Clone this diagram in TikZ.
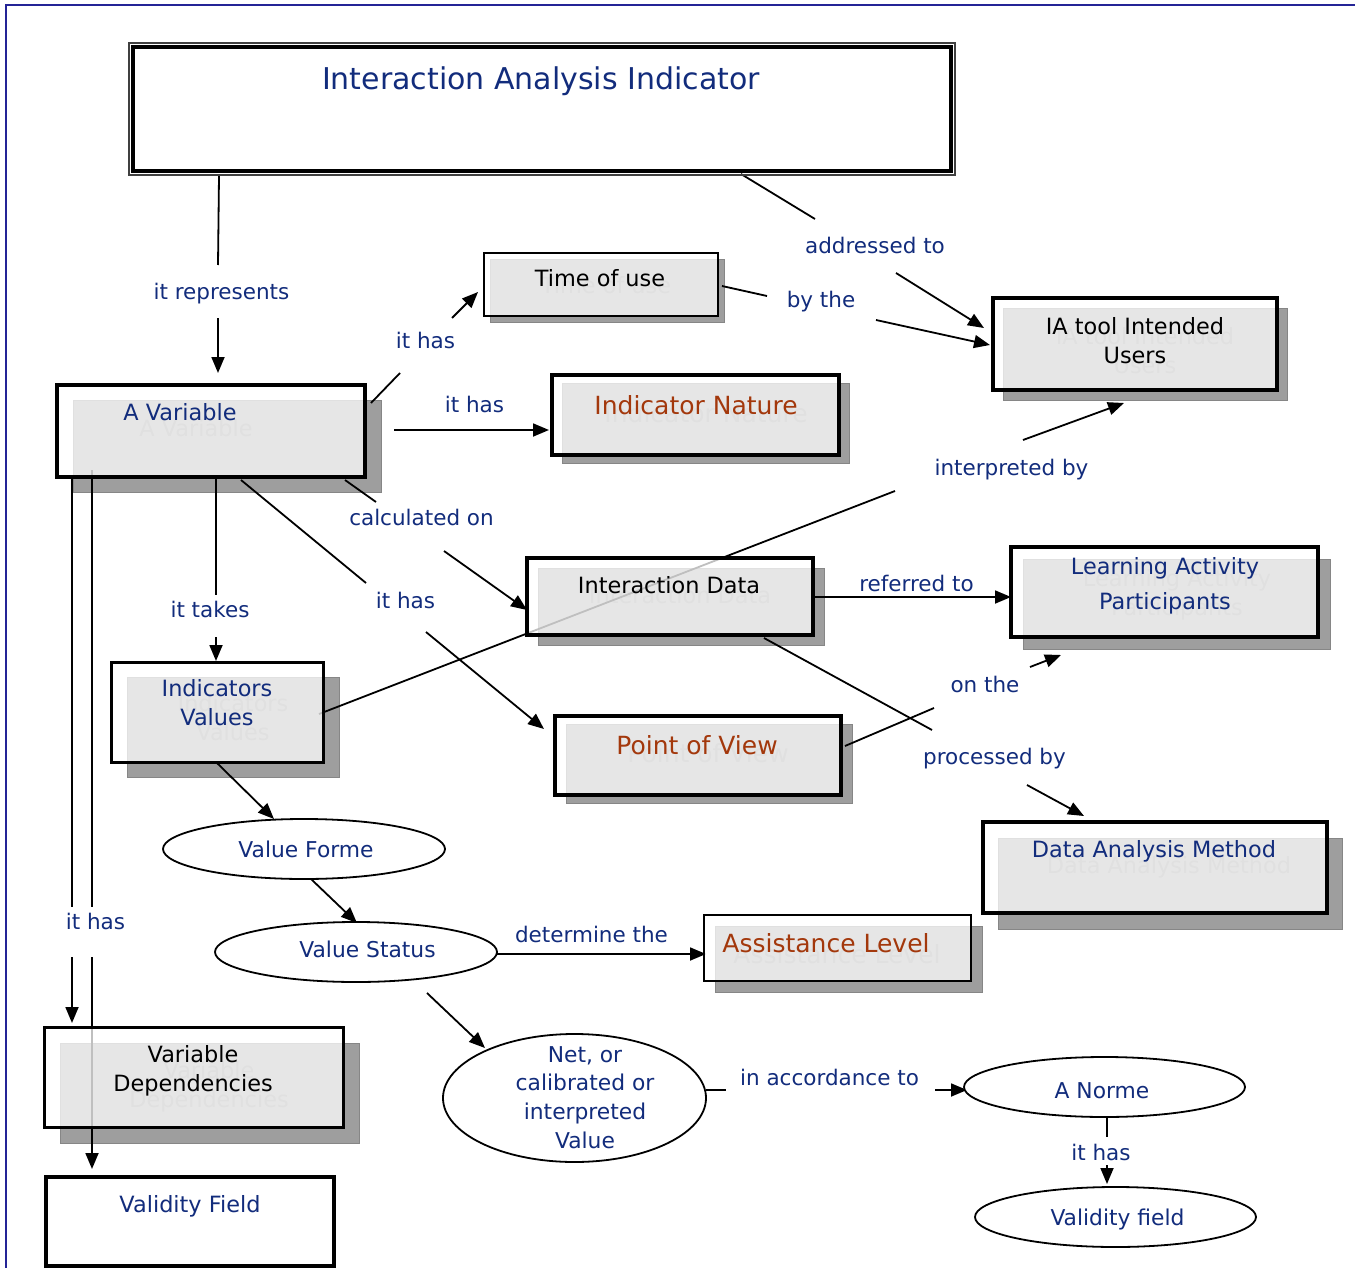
\documentclass[tikz,border=0pt]{standalone}
\usepackage{fontspec}
\setmainfont{DejaVu Sans}
\usetikzlibrary{arrows.meta,shapes.geometric,calc}
\pgfdeclarelayer{sh}
\pgfdeclarelayer{bg}
\pgfsetlayers{sh,bg,main}
\definecolor{navy}{RGB}{18,44,124}
\definecolor{rust}{RGB}{163,56,12}
\definecolor{shad}{RGB}{158,158,158}
\definecolor{framec}{RGB}{36,36,150}
\definecolor{ghostc}{RGB}{132,132,132}
\tikzset{
  lbl/.style={font=\fontsize{21.5}{26}\selectfont, text=navy, anchor=base, inner sep=0},
  boxshape/.style={rectangle, draw=black, fill=white, fill opacity=0.75, inner sep=0},
  btxt/.style={font=\fontsize{22.4}{29}\selectfont, inner sep=0, align=center},
  bigtxt/.style={font=\fontsize{25}{30}\selectfont, inner sep=0, align=center},
  etxt/.style={font=\fontsize{21.8}{28.7}\selectfont, text=navy, inner sep=0, align=center},
  shadowfill/.style={fill=shad, draw=shad!85!black, line width=0.8pt},
  conn/.style={line width=1.8pt, line cap=butt},
  arr/.style={conn, -{Triangle[length=16pt,width=13pt]}},
  ell/.style={ellipse, draw=black, fill=white, line width=1.8pt, inner sep=0}
}
% #1 name, #2 x1, #3 y1, #4 x2, #5 y2, #6 dx, #7 dy, #8 border width
\newcommand\shbox[8]{%
  \begin{pgfonlayer}{sh}
    \path[shadowfill] (#2+#6,#3+#7) rectangle (#4+#6,#5+#7);
  \end{pgfonlayer}
  \node[boxshape, line width=#8, minimum width={#4-#2}, minimum height={#5-#3}] (#1) at ({(#2+#4)/2},{(#3+#5)/2}) {};
}
\begin{document}
\begin{tikzpicture}[x=1pt,y=-1pt]
\useasboundingbox (0,0) rectangle (1355,1268);
\draw[framec, line width=2pt] (6,1268) -- (6,5) -- (1355,5);

% ---------- title ----------
\node[rectangle, draw=black!75, line width=1.5pt, minimum width=826, minimum height=132, inner sep=0] (title) at (542,109) {};
\draw[line width=4pt] ($(title.north west)+(5,5)$) rectangle ($(title.south east)+(-5,-5)$);
\node[font=\fontsize{30}{36}\selectfont, text=navy, anchor=base, inner sep=0] (titletxt) at (541,90) {Interaction Analysis Indicator};

% ---------- boxes ----------
\shbox{time}{484}{253}{718}{316}{6}{6}{2.5pt}
\shbox{ia}{993}{298}{1277}{390}{10}{10}{3.5pt}
\shbox{avar}{57}{385}{365}{477}{16}{15}{3.5pt}
\shbox{nature}{552}{375}{839}{455}{10}{8}{3.5pt}
\shbox{idata}{527}{558}{813}{635}{11}{10}{3.5pt}
\shbox{lap}{1011}{547}{1318}{637}{12}{12}{3.5pt}
\shbox{ival}{111}{662}{323}{762}{16}{15}{3pt}
\shbox{pov}{555}{716}{841}{795}{11}{8}{3.5pt}
\shbox{dam}{983}{822}{1327}{913}{15}{16}{3.5pt}
\shbox{assist}{704}{915}{971}{981}{11}{11}{2pt}
\shbox{vdep}{44}{1027}{343}{1127}{16}{16}{3pt}
\node[rectangle, draw=black, fill=white, line width=3.5pt, minimum width=288, minimum height=89, inner sep=0] (vfield) at (190,1221.5) {};

% ghost texts (shadow copies)
\begin{pgfonlayer}{sh}
\node[btxt, text=ghostc, anchor=base] at (606,293) {Time of use};
\node[btxt, text=ghostc, anchor=north] at (1145,327) {IA tool Intended\\Users};
\node[btxt, text=ghostc, anchor=base] at (196,436) {A Variable};
\node[bigtxt, text=ghostc, anchor=base] at (706,422) {Indicator Nature};
\node[btxt, text=ghostc, anchor=base] at (680,603) {Interaction Data};
\node[btxt, text=ghostc, anchor=north] at (1177,569) {Learning Activity\\Participants};
\node[btxt, text=ghostc, anchor=north] at (233,694) {Indicators\\Values};
\node[bigtxt, text=ghostc, anchor=base] at (708,762) {Point of View};
\node[btxt, text=ghostc, anchor=base] at (1169,873) {Data Analysis Method};
\node[bigtxt, text=ghostc, anchor=base] at (837,963) {Assistance Level};
\node[btxt, text=ghostc, anchor=north] at (209,1061) {Variable\\Dependencies};
\end{pgfonlayer}

% box texts
\node[btxt, text=black, anchor=base] (timet) at (600,287) {Time of use};
\node[btxt, text=black, anchor=north] (iat) at (1135,317) {IA tool Intended\\Users};
\node[btxt, text=navy, anchor=base] (avart) at (180,420) {A Variable};
\node[bigtxt, text=rust, anchor=base] (naturet) at (696,414) {Indicator Nature};
\node[btxt, text=black, anchor=base] (idatat) at (669,593) {Interaction Data};
\node[btxt, text=navy, anchor=north, font=\fontsize{22.4}{35}\selectfont] (lapt) at (1165,557) {Learning Activity\\Participants};
\node[btxt, text=navy, anchor=north] (ivalt) at (217,679) {Indicators\\Values};
\node[bigtxt, text=rust, anchor=base] (povt) at (697,754) {Point of View};
\node[btxt, text=navy, anchor=base] (damt) at (1154,857) {Data Analysis Method};
\node[bigtxt, text=rust, anchor=base] (assistt) at (826,952) {Assistance Level};
\node[btxt, text=black, anchor=north] (vdept) at (193,1045) {Variable\\Dependencies};
\node[btxt, text=navy, anchor=base] (vfieldt) at (190,1212) {Validity Field};

% ---------- ellipses ----------
\node[ell, minimum width=282, minimum height=60] (vforme) at (304,849) {};
\node[ell, minimum width=282, minimum height=60] (vstat) at (356,952) {};
\node[ell, minimum width=263, minimum height=128] (net) at (574.5,1098) {};
\node[ell, minimum width=281, minimum height=60] (norme) at (1104.5,1087) {};
\node[ell, minimum width=281, minimum height=60] (vfld) at (1115.5,1217) {};
\node[etxt, anchor=base] (vformet) at (306,857) {Value Forme};
\node[etxt, anchor=base] (vstatt) at (367.5,957) {Value Status};
\node[etxt, anchor=north] (nett) at (585,1046) {Net, or\\calibrated or\\interpreted\\Value};
\node[etxt, anchor=base] (normet) at (1102,1098) {A Norme};
\node[etxt, anchor=base] (vfldt) at (1117.5,1225) {Validity field};

% ---------- labels ----------
\node[lbl] (l1) at (221.5,299) {it represents};
\node[lbl] (l2) at (875,254) {addressed to};
\node[lbl] (l3) at (821,307) {by the};
\node[lbl] (l4) at (425.5,348) {it has};
\node[lbl] (l5) at (474.5,412) {it has};
\node[lbl] (l6) at (1011.5,475) {interpreted by};
\node[lbl] (l7) at (421.5,525) {calculated on};
\node[lbl] (l8) at (916.5,591) {referred to};
\node[lbl] (l9) at (210,617) {it takes};
\node[lbl] (l10) at (405.5,608) {it has};
\node[lbl] (l11) at (985,692) {on the};
\node[lbl] (l12) at (994.5,764) {processed by};
\node[lbl] (l13) at (95.5,929) {it has};
\node[lbl] (l14) at (591.5,942) {determine the};
\node[lbl] (l15) at (829.5,1085) {in accordance to};
\node[lbl] (l16) at (1101,1160) {it has};

% ---------- connector end points ----------
\coordinate (a1) at (219,176);  \coordinate (a2) at (218,265);
\coordinate (a3) at (218,318);  \coordinate (a4) at (218,373);
\coordinate (b1) at (741,174);  \coordinate (b2) at (815,219);
\coordinate (b3) at (896,273);  \coordinate (b4) at (984,328);
\coordinate (c1) at (371,403);  \coordinate (c2) at (400,373);
\coordinate (c3) at (452,318);  \coordinate (c4) at (478,292);
\coordinate (d1) at (722,286);  \coordinate (d2) at (767,296);
\coordinate (d3) at (876,320);  \coordinate (d4) at (990,345);
\coordinate (e1) at (394,430);  \coordinate (e2) at (549,430);
\coordinate (f1) at (345,480);  \coordinate (f2) at (376,502);
\coordinate (f3) at (444,551);  \coordinate (f4) at (527,610);
\coordinate (g1) at (241,480);  \coordinate (g2) at (366,583);
\coordinate (g3) at (426,632);  \coordinate (g4) at (544,729);
\coordinate (h1) at (216,479);  \coordinate (h2) at (216,595);
\coordinate (h3) at (216,637);  \coordinate (h4) at (216,661);
\coordinate (i1) at (319,714);  \coordinate (i2) at (895,491);
\coordinate (i3) at (1023,440); \coordinate (i4) at (1124,403);
\coordinate (j1) at (815,597);  \coordinate (j2) at (1011,597);
\coordinate (k1) at (845,746);  \coordinate (k2) at (934,708);
\coordinate (k3) at (1030,667); \coordinate (k4) at (1061,655);
\coordinate (m1) at (764,638);  \coordinate (m2) at (932,730);
\coordinate (m3) at (1027,785); \coordinate (m4) at (1084,816);
\coordinate (n1) at (217,763);  \coordinate (n2) at (274,819);
\coordinate (o1) at (311,879);  \coordinate (o2) at (357,923);
\coordinate (p1) at (497,954);  \coordinate (p2) at (706,954);
\coordinate (q1) at (427,993);  \coordinate (q2) at (485,1048);
\coordinate (s1) at (706,1090); \coordinate (s2) at (726,1090);
\coordinate (s3) at (935,1090); \coordinate (s4) at (967,1090);
\coordinate (t1) at (1107,1118);\coordinate (t2) at (1107,1137);
\coordinate (t3) at (1107,1165);\coordinate (t4) at (1107,1184);
\coordinate (u1) at (72,477);   \coordinate (u2) at (72,907);
\coordinate (u3) at (72,957);   \coordinate (u4) at (72,1023);
\coordinate (v1) at (92,470);   \coordinate (v2) at (92,907);
\coordinate (v3) at (92,957);   \coordinate (v4) at (92,1169);

\begin{pgfonlayer}{bg}
\draw[conn] (a1) -- (a2); \draw[arr] (a3) -- (a4);
\draw[conn] (b1) -- (b2); \draw[arr] (b3) -- (b4);
\draw[conn] (c1) -- (c2); \draw[arr] (c3) -- (c4);
\draw[conn] (d1) -- (d2); \draw[arr] (d3) -- (d4);
\draw[arr] (e1) -- (e2);
\draw[conn] (f1) -- (f2); \draw[arr] (f3) -- (f4);
\draw[conn] (g1) -- (g2); \draw[arr] (g3) -- (g4);
\draw[conn] (h1) -- (h2); \draw[arr] (h3) -- (h4);
\draw[conn] (i1) -- (i2); \draw[arr] (i3) -- (i4);
\draw[arr] (j1) -- (j2);
\draw[conn] (k1) -- (k2); \draw[arr] (k3) -- (k4);
\draw[conn] (m1) -- (m2); \draw[arr] (m3) -- (m4);
\draw[arr] (n1) -- (n2);
\draw[arr] (o1) -- (o2);
\draw[arr] (p1) -- (p2);
\draw[arr] (q1) -- (q2);
\draw[conn] (s1) -- (s2); \draw[arr] (s3) -- (s4);
\draw[conn] (t1) -- (t2); \draw[arr] (t3) -- (t4);
\draw[conn] (u1) -- (u2); \draw[arr] (u3) -- (u4);
\draw[conn] (v1) -- (v2); \draw[arr] (v3) -- (v4);
\end{pgfonlayer}
\end{tikzpicture}
\end{document}
